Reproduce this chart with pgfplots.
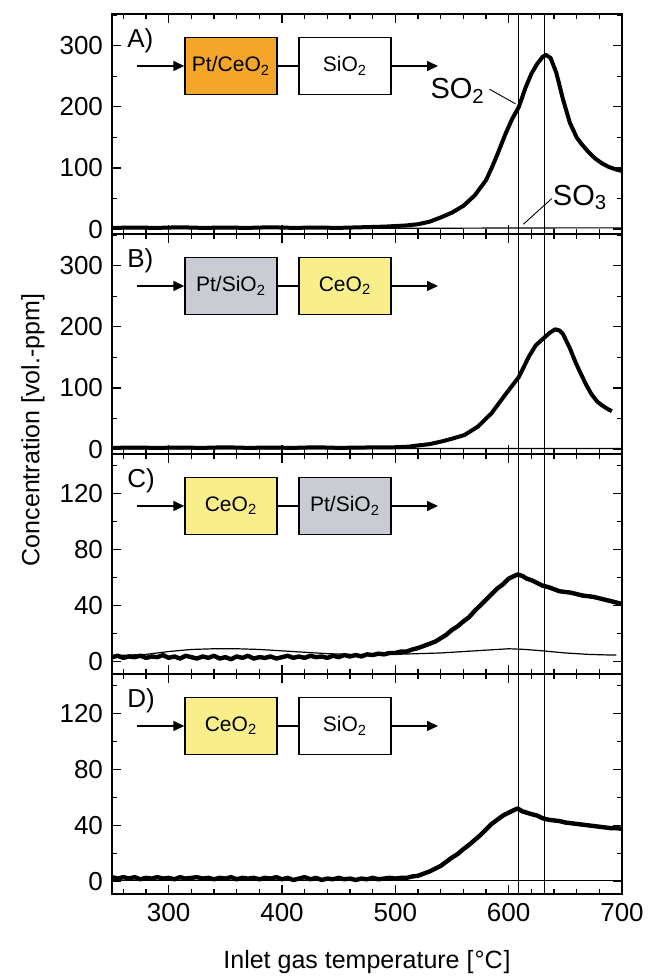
\documentclass[border=0pt]{standalone}
\usepackage{fontspec}
\setmainfont{Liberation Sans}
\usepackage{pgfplots}
\pgfplotsset{compat=1.18}
\usepgfplotslibrary{groupplots}
\usetikzlibrary{calc,arrows.meta}
\definecolor{cOrange}{HTML}{F4A62A}
\definecolor{cGray}{HTML}{C9CCD3}
\definecolor{cYellow}{HTML}{F9EF8A}
\newcommand{\flow}[5]{%
  \node[anchor=north west,inner sep=0pt,font=\fontsize{13}{15}\selectfont] at ($(rel axis cs:0,1)+(7.5pt,-7pt)$) {#1};
  \node[draw,line width=0.7pt,fill=#2,minimum width=46pt,minimum height=28.5pt,inner sep=0pt,font=\fontsize{10.5}{12}\selectfont] (b1) at ($(rel axis cs:0,1)+(59.5pt,-26pt)$) {#3};
  \node[draw,line width=0.7pt,fill=#4,minimum width=46pt,minimum height=28.5pt,inner sep=0pt,font=\fontsize{10.5}{12}\selectfont] (b2) at ($(rel axis cs:0,1)+(116.5pt,-26pt)$) {#5};
  \draw[line width=0.7pt,-{Triangle[length=5.5pt,width=5pt]}] ($(rel axis cs:0,1)+(12.5pt,-26pt)$) -- (b1.west);
  \draw[line width=0.7pt] (b1.east) -- (b2.west);
  \draw[line width=0.7pt,-{Triangle[length=5.5pt,width=5pt]}] (b2.east) -- ($(rel axis cs:0,1)+(163pt,-26pt)$);
}
\begin{document}
\begin{tikzpicture}
\begin{groupplot}[
  group style={group size=1 by 4, vertical sep=0pt, xticklabels at=edge bottom},
  width=255pt, height=110pt, scale only axis,
  xmin=250, xmax=700,
  xtick={200,300,...,700}, minor x tick num=4,
  minor y tick num=1,
  major tick length=4.5pt, minor tick length=2.5pt,
  tick align=inside, tick pos=both,
  axis line style={line width=0.75pt},
  every tick/.style={line width=0.6pt,black},
  /pgf/number format/assume math mode=true,
  ticklabel style={font=\fontsize{13}{15}\selectfont},
  xticklabel style={yshift=-1pt},
  yticklabel style={xshift=-1pt},
  thickline/.style={black,line width=2pt,line join=round},
  thinline/.style={black,line width=0.6pt},
  vline/.style={black,line width=0.45pt},
]
% ---------------- A
\nextgroupplot[ymin=-8, ymax=352, ytick={-100,0,100,...,400}]
\addplot[vline] coordinates {(609,-50) (609,500)};
\addplot[vline] coordinates {(632,-50) (632,500)};
\addplot[thinline] coordinates {(250,1) (350,1) (450,1.5) (550,1.5) (650,2) (700,2)};
\addplot[thickline] coordinates {
(250,2) (270,2.5) (290,2) (310,3) (330,2) (350,2.5) (370,2) (390,3) (410,2) (430,2.5) (450,2) (470,3) (490,4) (500,5)
(510,6) (520,8) (530,12) (540,19) (550,27) (560,38) (570,55) (580,80) (585,100) (590,122) (597,155) (603,180) (609,200)
(615,232) (620,254) (625,270) (630,282) (633,285) (637,280) (642,256) (648,212) (654,174) (660,150) (664,140) (670,127)
(676,116) (682,108) (688,102) (694,98) (700,95)};
\node[font=\fontsize{14.5}{16}\selectfont] at (axis cs:555,226) {SO\textsubscript{2}};
\draw[line width=0.45pt] (axis cs:583,229) -- (axis cs:606,205);
\node[font=\fontsize{14.5}{16}\selectfont] at (axis cs:663,52) {SO\textsubscript{3}};
\draw[line width=0.45pt] (axis cs:638,50) -- (axis cs:613,8);
\flow{A)}{cOrange}{Pt/CeO\textsubscript{2}}{white}{SiO\textsubscript{2}}
% ---------------- B
\nextgroupplot[ymin=-8, ymax=352, ytick={-100,0,100,...,400}]
\addplot[vline] coordinates {(609,-50) (609,500)};
\addplot[vline] coordinates {(632,-50) (632,500)};
\addplot[thinline] coordinates {(250,0.5) (400,0.5) (550,1) (700,1)};
\addplot[thickline] coordinates {
(250,2) (270,2.5) (290,2) (310,2.5) (330,2) (350,3) (370,2) (390,2.5) (410,2) (430,3) (450,2) (470,2.5) (490,3) (500,3)
(512,4) (520,6) (530,8) (542,13) (550,17) (561,23) (573,37) (585,59) (597,89) (609,118) (618,152) (624,170) (630,180)
(636,190) (641,196) (645,194) (648,188) (654,165) (659,142) (664,122) (669,103) (673,90) (678,78) (682,72) (687,66) (691,62)};
\flow{B)}{cGray}{Pt/SiO\textsubscript{2}}{cYellow}{CeO\textsubscript{2}}
% ---------------- C
\nextgroupplot[ymin=-9, ymax=148, ytick={-40,0,40,...,160}]
\addplot[vline] coordinates {(609,-50) (609,500)};
\addplot[vline] coordinates {(632,-50) (632,500)};
\addplot[thinline] coordinates {(250,4) (280,5) (300,7) (320,8.5) (340,9) (360,9) (380,8.5) (400,7.5) (420,6.5) (440,5.5)
(460,5) (480,5) (500,5) (520,5.5) (540,6) (560,7) (580,8) (600,9) (615,8.5) (630,7.5) (650,6) (670,5) (690,4.5) (695,4.5)};
\addplot[thickline,line width=2.2pt] coordinates {
(250,3) (255,4) (260,2.5) (265,3.5) (270,3) (275,4) (280,2.5) (285,3.5) (290,3) (295,4.5) (300,2.5) (305,3.5) (310,2) (315,4) (320,3)
(325,2) (330,3.5) (335,2.5) (340,4) (345,2) (350,3) (355,1.5) (360,3.5) (365,2.5) (370,4) (375,2) (380,3) (385,2.5) (390,3.5) (395,2)
(400,3) (405,4) (410,2.5) (415,3.5) (420,2.5) (425,4) (430,3) (435,3.5) (440,2.5) (445,4) (450,3) (455,4.5) (460,3.5) (465,4.5) (470,3.5)
(475,5) (480,4.5) (485,5.5) (490,5) (495,6) (500,6) (505,7) (510,7) (515,8.5) (520,9.5) (525,11) (530,12.5) (535,14) (540,16.5)
(545,19) (550,22.5) (555,25) (560,28.5) (565,31.5) (570,36) (575,40) (580,44) (585,48) (590,52) (595,55) (600,59) (605,61)
(608,62) (612,61) (616,59) (620,58) (625,56) (630,54) (635,53) (640,51.5) (645,50) (650,49.5) (655,49) (660,48) (665,47)
(670,46.5) (675,46) (680,45) (685,44) (690,43) (695,42) (700,41)};
\flow{C)}{cYellow}{CeO\textsubscript{2}}{cGray}{Pt/SiO\textsubscript{2}}
% ---------------- D
\nextgroupplot[ymin=-9, ymax=148, ytick={-40,0,40,...,160}]
\addplot[vline] coordinates {(609,-50) (609,500)};
\addplot[vline] coordinates {(632,-50) (632,500)};
\addplot[thinline] coordinates {(250,0.5) (400,0.5) (550,0.5) (700,0.5)};
\addplot[thickline,line width=2.2pt] coordinates {
(250,3) (255,2) (260,3) (265,2) (270,3) (275,1.5) (280,2.5) (285,2) (290,3) (295,2) (300,2.5) (305,1.5) (310,3) (315,2) (320,2.5)
(325,3) (330,2) (335,2.5) (340,1.5) (345,2.5) (350,2) (355,3) (360,1.5) (365,2.5) (370,2) (375,2.5) (380,1.5) (385,2.5) (390,2) (395,3)
(400,1.5) (405,2.5) (410,1) (415,2) (420,3) (425,1.5) (430,2.5) (435,1) (440,2) (445,1.5) (450,2.5) (455,1.5) (460,2) (465,1) (470,2)
(475,1.5) (480,2.5) (485,1.5) (490,2) (495,2.5) (500,2) (505,2.5) (510,2.5) (515,3.5) (520,4) (525,5.5) (530,7) (535,9) (540,11)
(545,14) (550,17) (555,19.5) (560,23) (565,26) (570,29.5) (575,33) (580,37) (585,41) (590,44) (595,47) (600,49) (605,51)
(608,52) (612,50) (616,49) (620,48) (625,47) (630,45) (635,44) (640,43.5) (645,43) (650,42) (655,41.5) (660,41) (665,40.5)
(670,40) (675,39.5) (680,39) (685,38.5) (690,38) (695,38) (700,37.5)};
\flow{D)}{cYellow}{CeO\textsubscript{2}}{white}{SiO\textsubscript{2}}
\end{groupplot}
\node[rotate=90,font=\fontsize{12.5}{15}\selectfont] at ($(group c1r1.north west)+(-39.5pt,-208pt)$) {Concentration [vol.-ppm]};
\node[font=\fontsize{12.5}{15}\selectfont] at ($(group c1r4.south)+(0,-34pt)$) {Inlet gas temperature [\kern0.5pt°C\kern0.5pt]};
\pgfresetboundingbox
\path[use as bounding box] ($(group c1r1.north west)+(-56pt,7pt)$) rectangle ($(group c1r1.north west)+(269pt,-482pt)$);
\end{tikzpicture}
\end{document}
